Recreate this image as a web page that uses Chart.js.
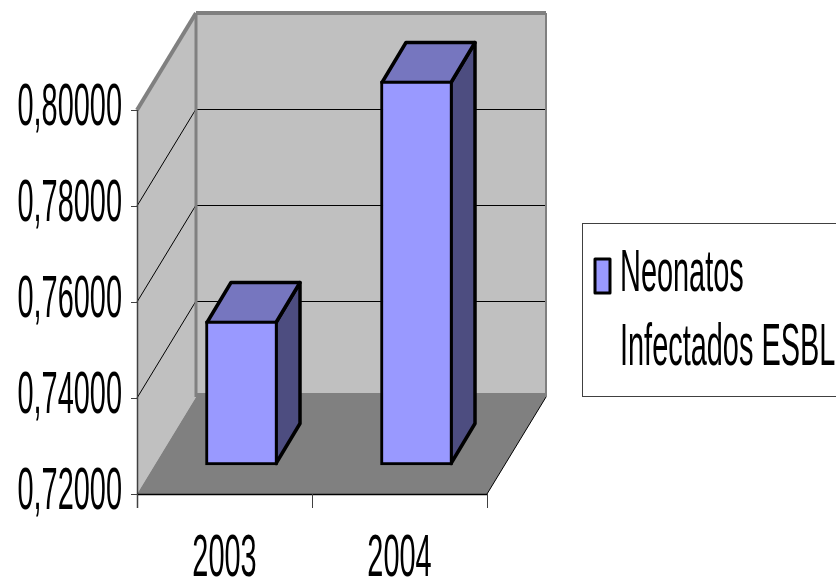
<!DOCTYPE html>
<html>
  <head>
    <title>Neonatos Infectados ESBL</title>
    <script src="https://cdn.jsdelivr.net/npm/chart.js"></script>
    <style>
      body { margin: 0; padding: 0; background: #fff; }
      canvas { display: block; }
    </style>
  </head>
  <body>
    <canvas id="chart" width="836" height="580"></canvas>
    <script>
      // --- Data ---
      const categories = ["2003", "2004"];
      const seriesName = ["Neonatos", "Infectados ESBL"];
      const values = [0.75, 0.80];
      const yTickLabels = ["0,72000", "0,74000", "0,76000", "0,78000", "0,80000"];
      const yMin = 0.72;
      const yMax = 0.80;
      const yStep = 0.02;

      // --- 3D look ---
      const WALL = { dx: 59, dy: -97 };   // depth of the whole box
      const BAR_SHIFT = { dx: 17, dy: -29 };  // front of bar vs front of box
      const BAR_DEPTH = { dx: 24, dy: -40 };
      const FRONT = "#9999ff", TOP = "#7676bf", SIDE = "#4d4d80";
      const FONT = '59px "Liberation Sans", Arial, sans-serif';
      const SQUEEZE = 0.49; // labels in the original are squashed horizontally

      function poly(ctx, pts) {
        ctx.beginPath();
        pts.forEach((p, i) => (i ? ctx.lineTo(p[0], p[1]) : ctx.moveTo(p[0], p[1])));
        ctx.closePath();
      }

      function line(ctx, x1, y1, x2, y2, color, width) {
        ctx.strokeStyle = color;
        ctx.lineWidth = width;
        ctx.beginPath();
        ctx.moveTo(x1, y1);
        ctx.lineTo(x2, y2);
        ctx.stroke();
      }

      function squeezedText(ctx, text, x, y, align) {
        ctx.save();
        ctx.translate(x, y);
        ctx.scale(SQUEEZE, 1);
        ctx.font = FONT;
        ctx.fillStyle = "#000";
        ctx.textAlign = align;
        ctx.textBaseline = "alphabetic";
        ctx.fillText(text, 0, 0);
        ctx.restore();
      }

      // Walls, floor, gridlines and the axes are drawn behind the bars
      const box3d = {
        id: "box3d",
        beforeDatasetsDraw(chart) {
          const ctx = chart.ctx;
          const { left, right, top, bottom } = chart.chartArea;
          const y = chart.scales.y, x = chart.scales.x;
          const dx = WALL.dx, dy = WALL.dy;
          ctx.save();

          // back wall + side wall
          ctx.fillStyle = "#c0c0c0";
          poly(ctx, [[left + dx, top + dy], [right + dx, top + dy], [right + dx, bottom + dy], [left + dx, bottom + dy]]);
          ctx.fill();
          poly(ctx, [[left, top], [left + dx, top + dy], [left + dx, bottom + dy], [left, bottom]]);
          ctx.fill();

          // gridlines
          y.ticks.forEach(t => {
            const py = Math.round(y.getPixelForValue(t.value));
            if (t.value > yMin + 1e-6 && t.value < yMax - 1e-6) {
              line(ctx, left + dx, py + dy + 0.5, right + dx, py + dy + 0.5, "#000", 1);
              line(ctx, left, py, left + dx, py + dy, "#000", 1);
            }
          });

          // floor
          ctx.fillStyle = "#808080";
          poly(ctx, [[left, bottom], [left + dx, bottom + dy], [right + dx, bottom + dy], [right, bottom]]);
          ctx.fill();

          // grey edges of the walls
          ctx.lineJoin = "round";
          line(ctx, left, top, left + dx, top + dy, "#808080", 4);
          line(ctx, left + dx, top + dy, right + dx, top + dy, "#808080", 4);
          line(ctx, left + dx, top + dy, left + dx, bottom + dy, "#808080", 3);
          line(ctx, right + dx, top + dy, right + dx, bottom + dy, "#808080", 2);
          line(ctx, left + dx, bottom + dy - 2, right + dx, bottom + dy - 2, "#808080", 4);

          // axes
          line(ctx, left + 0.5, top, left + 0.5, bottom + 14, "#404040", 1.5);
          line(ctx, left, bottom + 0.5, right, bottom + 0.5, "#000", 1.5);
          line(ctx, right, bottom, right + dx, bottom + dy, "#000", 1);
          y.ticks.forEach(t => {
            const py = Math.round(y.getPixelForValue(t.value)) + 0.5;
            line(ctx, left - 6, py, left, py, "#404040", 1);
            squeezedText(ctx, t.label, left - 15, py + 14, "right");
          });
          const slot = (right - left) / categories.length;
          for (let i = 0; i <= categories.length; i++) {
            const px = Math.round(left + i * slot) + 0.5;
            line(ctx, px, bottom, px, bottom + 14, "#404040", 1);
          }
          categories.forEach((c, i) => {
            squeezedText(ctx, c, x.getPixelForValue(i), bottom + 82, "center");
          });
          ctx.restore();
        },
        // side and top of each bar, then push the library's bar forward into the box
        beforeDatasetDraw(chart, args) {
          const ctx = chart.ctx;
          const bars = chart.getDatasetMeta(args.index).data;
          ctx.save();
          ctx.translate(BAR_SHIFT.dx, BAR_SHIFT.dy);
          ctx.lineWidth = 3.5;
          ctx.lineJoin = "round";
          ctx.strokeStyle = "#000";
          bars.forEach(b => {
            const l = b.x - b.width / 2 + 1.5, r = b.x + b.width / 2 - 1.5;
            const t = b.y + 1.5, bt = b.base - 1.5;
            const dx = BAR_DEPTH.dx, dy = BAR_DEPTH.dy;
            ctx.fillStyle = SIDE;
            poly(ctx, [[r, t], [r + dx, t + dy], [r + dx, bt + dy], [r, bt]]);
            ctx.fill();
            ctx.stroke();
            ctx.fillStyle = TOP;
            poly(ctx, [[l, t], [l + dx, t + dy], [r + dx, t + dy], [r, t]]);
            ctx.fill();
            ctx.stroke();
          });
        },
        afterDatasetDraw(chart) {
          chart.ctx.restore();
        },
        // legend box
        afterDraw(chart) {
          const ctx = chart.ctx;
          ctx.save();
          ctx.fillStyle = "#fff";
          ctx.strokeStyle = "#404040";
          ctx.lineWidth = 1;
          ctx.fillRect(582.5, 223.5, 260, 173);
          ctx.strokeRect(582.5, 223.5, 260, 173);
          ctx.fillStyle = FRONT;
          ctx.strokeStyle = "#000";
          ctx.lineWidth = 3;
          ctx.lineJoin = "round";
          ctx.beginPath();
          ctx.rect(595, 259, 15, 34);
          ctx.fill();
          ctx.stroke();
          squeezedText(ctx, seriesName[0], 620, 291, "left");
          squeezedText(ctx, seriesName[1], 620, 365, "left");
          ctx.restore();
        }
      };

      new Chart(document.getElementById("chart"), {
        type: "bar",
        data: {
          labels: categories,
          datasets: [{
            label: seriesName.join(" "),
            data: values,
            base: yMin,
            backgroundColor: FRONT,
            borderColor: "#000",
            borderWidth: 3,
            borderSkipped: false,
            barThickness: 72,
            clip: false
          }]
        },
        options: {
          responsive: false,
          animation: false,
          layout: { padding: { left: 137, top: 110, right: 349, bottom: 86 } },
          plugins: { legend: { display: false }, title: { display: false }, tooltip: { enabled: false } },
          scales: {
            x: { display: false },
            y: {
              display: false,
              min: yMin,
              max: yMax,
              ticks: { stepSize: yStep, callback: (v, i) => yTickLabels[i] }
            }
          }
        },
        plugins: [box3d]
      });
    </script>
  </body>
</html>
